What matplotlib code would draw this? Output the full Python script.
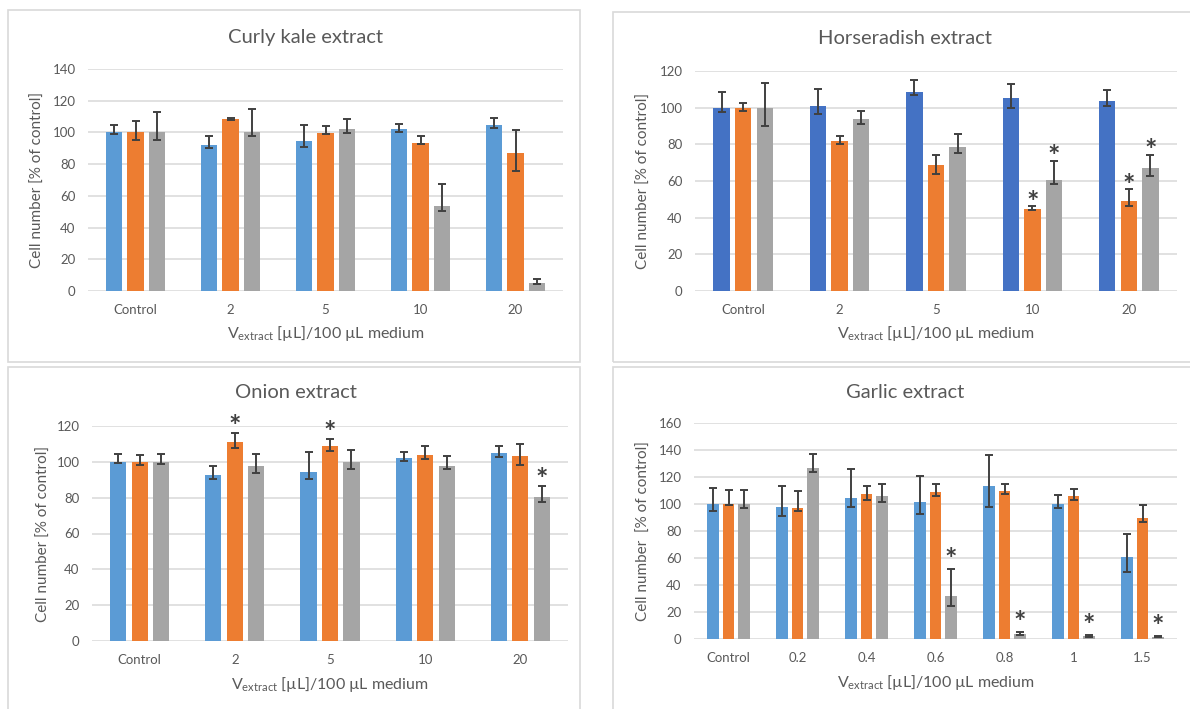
import matplotlib.pyplot as plt
from matplotlib.patches import Rectangle
import numpy as np

plt.rcParams['font.family'] = ['Lato', 'DejaVu Sans']
plt.rcParams['mathtext.fontset'] = 'custom'
plt.rcParams['mathtext.rm'] = 'Lato'
plt.rcParams['mathtext.it'] = 'Lato:italic'
plt.rcParams['mathtext.bf'] = 'Lato:bold'

# ---- data: mean, lower / upper error, significant bars (category, series) ----
kale_cats = ['Control', '2', '5', '10', '20']
kale_vals = [[100, 92.3, 94.4, 102.2, 104.8],
             [100, 108.6, 99.7, 93.3, 87.0],
             [100, 100.3, 102.2, 53.5, 5.0]]
kale_lo = [[1.0, 2.0, 3.4, 1.7, 1.7],
           [5.0, 0.5, 0.8, 0.5, 11.1],
           [5.0, 2.7, 2.5, 3.0, 0.9]]
kale_hi = [[4.5, 5.7, 10.4, 3.0, 4.0],
           [7.0, 0.6, 4.2, 4.7, 14.8],
           [13.0, 14.7, 6.0, 14.2, 2.7]]
kale_stars = []

horse_cats = ['Control', '2', '5', '10', '20']
horse_vals = [[100, 100.7, 108.7, 105.4, 103.8],
              [100, 81.7, 68.6, 44.7, 48.9],
              [100, 93.6, 78.4, 60.7, 67.1]]
horse_lo = [[2.4, 3.9, 1.6, 5.4, 2.9],
            [1.7, 1.3, 4.8, 0.5, 2.4],
            [10.0, 2.6, 3.1, 2.2, 4.5]]
horse_hi = [[8.5, 9.3, 6.4, 7.3, 5.6],
            [2.7, 3.1, 5.6, 1.4, 6.5],
            [13.6, 4.7, 7.1, 10.4, 7.1]]
horse_stars = [(3, 1), (3, 2), (4, 1), (4, 2)]

onion_cats = ['Control', '2', '5', '10', '20']
onion_vals = [[100, 92.8, 94.3, 102.3, 104.9],
              [100, 111.1, 108.7, 104.0, 103.3],
              [100, 97.7, 99.9, 97.5, 80.4]]
onion_lo = [[0.5, 2.2, 3.7, 1.8, 2.2],
            [2.0, 3.2, 2.7, 2.2, 5.3],
            [1.2, 3.7, 3.7, 1.5, 3.0]]
onion_hi = [[4.4, 5.0, 11.0, 3.0, 3.9],
            [3.8, 5.2, 4.0, 4.8, 6.8],
            [4.4, 6.5, 6.5, 5.8, 5.9]]
onion_stars = [(1, 1), (2, 1), (4, 2)]

garlic_cats = ['Control', '0.2', '0.4', '0.6', '0.8', '1', '1.5']
garlic_vals = [[100, 98.0, 104.4, 101.5, 113.3, 99.8, 60.7],
               [100, 97.0, 107.2, 108.6, 109.6, 105.9, 89.4],
               [100, 126.4, 106.2, 31.9, 3.7, 2.2, 1.7]]
garlic_lo = [[5.0, 6.6, 6.9, 8.7, 15.8, 3.0, 11.3],
             [1.0, 2.4, 4.0, 2.4, 2.4, 2.9, 2.7],
             [3.2, 2.9, 4.7, 7.5, 0.7, 0.5, 0.5]]
garlic_hi = [[11.6, 15.6, 21.8, 19.2, 23.2, 6.9, 17.3],
             [10.6, 12.4, 6.4, 6.0, 5.4, 5.5, 9.6],
             [10.6, 10.9, 8.4, 20.0, 1.5, 0.8, 0.5]]
garlic_stars = [(3, 2), (4, 2), (5, 2), (6, 2)]

XLABEL = r'V$_{\mathrm{extract}}$ [µL]/100 µL medium'
TEXT = '#595959'
GRID = '#d9d9d9'
EBAR = '#404040'
LIGHT_COLORS = ['#5b9bd5', '#ed7d31', '#a5a5a5']
DARK_COLORS = ['#4472c4', '#ed7d31', '#a5a5a5']

W, H = 1190, 709
fig = plt.figure(figsize=(W / 100, H / 100), dpi=100)


def fx(px):
    return px / W


def fy(py):
    return 1 - py / H


def plot_panel(frame, plot_box, title, title_xy, cats, vals, lo, hi, stars,
               colors, ymax, ystep, star_off, ylabel, ylabel_x):
    # light grey frame around each chart
    x0, y0, x1, y1 = frame
    fig.patches.append(Rectangle((fx(x0), fy(y1)), fx(x1 - x0), (y1 - y0) / H,
                                 transform=fig.transFigure, fill=False,
                                 edgecolor=GRID, lw=1.2))
    l, t, r, b = plot_box
    ax = fig.add_axes([fx(l), fy(b), fx(r - l), (b - t) / H])

    x = np.arange(len(cats))
    width, step = 0.17, 0.225
    for j in range(3):
        xs = x + (j - 1) * step
        ax.bar(xs, vals[j], width, color=colors[j], zorder=2)
        ax.errorbar(xs, vals[j], yerr=[lo[j], hi[j]], fmt='none', ecolor=EBAR,
                    elinewidth=1.4, capsize=3, capthick=1.4, zorder=3)
    for ci, sj in stars:
        ax.annotate('*', xy=(x[ci] + (sj - 1) * step, vals[sj][ci] + hi[sj][ci]),
                    xytext=(0, star_off), textcoords='offset points',
                    ha='center', va='baseline', fontsize=21, fontweight='bold',
                    color=EBAR, zorder=4)

    ax.set_xlim(-0.5, len(cats) - 0.5)
    ax.set_ylim(0, ymax)
    ax.set_yticks(np.arange(0, ymax + 1, ystep))
    ax.set_xticks(x)
    ax.set_xticklabels(cats)
    ax.yaxis.grid(True, color=GRID, lw=1.1, zorder=0)
    ax.set_axisbelow(True)
    for s in ax.spines.values():
        s.set_visible(False)
    ax.tick_params(length=0, labelsize=9.5, labelcolor=TEXT, pad=9)
    ax.set_facecolor('none')

    fig.text(fx(title_xy[0]), fy(title_xy[1]), title, ha='center', va='center',
             fontsize=14.5, color=TEXT)
    fig.text(fx((l + r) / 2), fy(b + 43), XLABEL, ha='center', va='center',
             fontsize=11.5, color=TEXT)
    fig.text(fx(ylabel_x), fy((t + b) / 2), ylabel, ha='center', va='center',
             rotation=90, fontsize=11, color=TEXT)
    return ax


ylab = 'Cell number [% of control]'
plot_panel((8, 10, 580, 362), (88, 69, 563, 291), 'Curly kale extract', (305, 37),
           kale_cats, kale_vals, kale_lo, kale_hi, kale_stars,
           LIGHT_COLORS, 140, 20, 0, ylab, 38)
plot_panel((613, 12, 1200, 362), (695, 71, 1177, 291), 'Horseradish extract', (905, 38),
           horse_cats, horse_vals, horse_lo, horse_hi, horse_stars,
           DARK_COLORS, 120, 20, -3, ylab, 644)
plot_panel((8, 367, 580, 720), (92, 426, 568, 641), 'Onion extract', (296, 393),
           onion_cats, onion_vals, onion_lo, onion_hi, onion_stars,
           LIGHT_COLORS, 120, 20, -1.5, ylab, 44)
plot_panel((613, 367, 1200, 720), (694, 423, 1177, 639), 'Garlic extract', (905, 393),
           garlic_cats, garlic_vals, garlic_lo, garlic_hi, garlic_stars,
           LIGHT_COLORS, 160, 20, 1, 'Cell number  [% of control]', 644)

fig.savefig('out.png', dpi=100)
